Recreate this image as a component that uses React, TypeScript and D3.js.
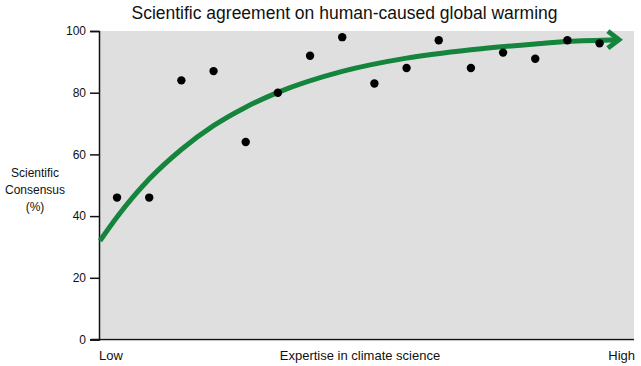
import React, { useEffect, useRef } from "react";
import * as d3 from "d3";

// survey groups, ordered from low to high climate expertise
const expertiseRank = [1, 2, 3, 4, 5, 6, 7, 8, 9, 10, 11, 12, 13, 14, 15, 16];
const consensusPct = [46, 46, 84, 87, 64, 80, 92, 98, 83, 88, 97, 88, 93, 91, 97, 96];

// trend curve (same expertise units)
const trendRank = [0.47, 1, 1.5, 2, 3, 4, 5, 6, 8, 10, 12, 14, 15, 16.6];
const trendPct = [32, 39.7, 46.2, 52, 61.6, 69.3, 75.3, 80.1, 86.9, 91.2, 93.9, 95.8, 96.6, 97.2];

const yTicks = [0, 20, 40, 60, 80, 100];
const yLabelLines = ["Scientific", "Consensus", "(%)"];

const WIDTH = 641;
const HEIGHT = 366;
const FONT = "'Liberation Sans', Arial, Helvetica, sans-serif";
const GREEN = "#15843c";

const App: React.FC = () => {
  const svgRef = useRef<SVGSVGElement | null>(null);

  useEffect(() => {
    const svg = d3.select(svgRef.current);
    svg.selectAll("*").remove();

    const margin = { top: 31, right: 7, bottom: 26.5, left: 100 };
    const x = d3
      .scaleLinear()
      .domain([0.47, 17.07])
      .range([margin.left, WIDTH - margin.right]);
    const y = d3
      .scaleLinear()
      .domain([0, 100])
      .range([HEIGHT - margin.bottom, margin.top]);

    // plot background
    svg
      .append("rect")
      .attr("x", margin.left)
      .attr("y", margin.top)
      .attr("width", WIDTH - margin.right - margin.left)
      .attr("height", y(0) - margin.top - 1.5)
      .attr("fill", "#dfdfdf");

    // title
    svg
      .append("text")
      .attr("x", 344.5)
      .attr("y", 18.5)
      .attr("text-anchor", "middle")
      .style("font-family", FONT)
      .style("font-size", "17.5px")
      .attr("fill", "#111")
      .text("Scientific agreement on human-caused global warming");

    // y axis
    const yAxis = d3
      .axisLeft(y)
      .tickValues(yTicks)
      .tickSize(9)
      .tickPadding(4)
      .tickFormat((d) => String(d));
    const gy = svg.append("g").attr("transform", `translate(${margin.left - 1},0)`).call(yAxis);
    gy.select(".domain").attr("stroke", "#111").attr("stroke-width", 1.5);
    gy.selectAll(".tick line").attr("stroke", "#111").attr("stroke-width", 1.5);
    gy.selectAll(".tick text")
      .style("font-family", FONT)
      .style("font-size", "12px")
      .attr("fill", "#111");

    // x axis baseline
    svg
      .append("line")
      .attr("x1", 91)
      .attr("x2", x.range()[1])
      .attr("y1", y(0))
      .attr("y2", y(0))
      .attr("stroke", "#111")
      .attr("stroke-width", 1.5);

    // x axis labels
    const xl = svg
      .append("g")
      .style("font-family", FONT)
      .style("font-size", "13px")
      .attr("fill", "#111");
    xl.append("text").attr("x", 99).attr("y", 360).text("Low");
    xl.append("text")
      .attr("x", 360)
      .attr("y", 360)
      .attr("text-anchor", "middle")
      .text("Expertise in climate science");
    xl.append("text").attr("x", 635).attr("y", 360).attr("text-anchor", "end").text("High");

    // y axis title
    const yt = svg
      .append("text")
      .attr("x", 35)
      .attr("y", 177)
      .attr("text-anchor", "middle")
      .style("font-family", FONT)
      .style("font-size", "12px")
      .attr("fill", "#111");
    yLabelLines.forEach((t, i) => {
      yt.append("tspan").attr("x", 35).attr("dy", i === 0 ? 0 : 17).text(t);
    });

    // trend curve
    const trend = trendRank.map((r, i) => ({ r, v: trendPct[i] }));
    const line = d3
      .line<{ r: number; v: number }>()
      .x((d) => x(d.r))
      .y((d) => y(d.v))
      .curve(d3.curveMonotoneX);
    svg
      .append("path")
      .datum(trend)
      .attr("d", line)
      .attr("fill", "none")
      .attr("stroke", GREEN)
      .attr("stroke-width", 5);

    // arrow head
    const tip = trend[trend.length - 1];
    const tx = x(tip.r);
    const ty = y(tip.v);
    svg
      .append("polyline")
      .attr("points", `${tx - 11},${ty - 8.5} ${tx},${ty} ${tx - 11},${ty + 8.5}`)
      .attr("fill", "none")
      .attr("stroke", GREEN)
      .attr("stroke-width", 5)
      .attr("stroke-linejoin", "miter");

    // survey points
    svg
      .append("g")
      .selectAll("circle")
      .data(expertiseRank.map((r, i) => ({ r, v: consensusPct[i] })))
      .join("circle")
      .attr("cx", (d) => x(d.r))
      .attr("cy", (d) => y(d.v))
      .attr("r", 4.2)
      .attr("fill", "#000");
  }, []);

  return (
    <div style={{ position: "fixed", inset: 0, background: "#fff" }}>
      <svg ref={svgRef} width={WIDTH} height={HEIGHT} style={{ display: "block" }} />
    </div>
  );
};

export default App;
